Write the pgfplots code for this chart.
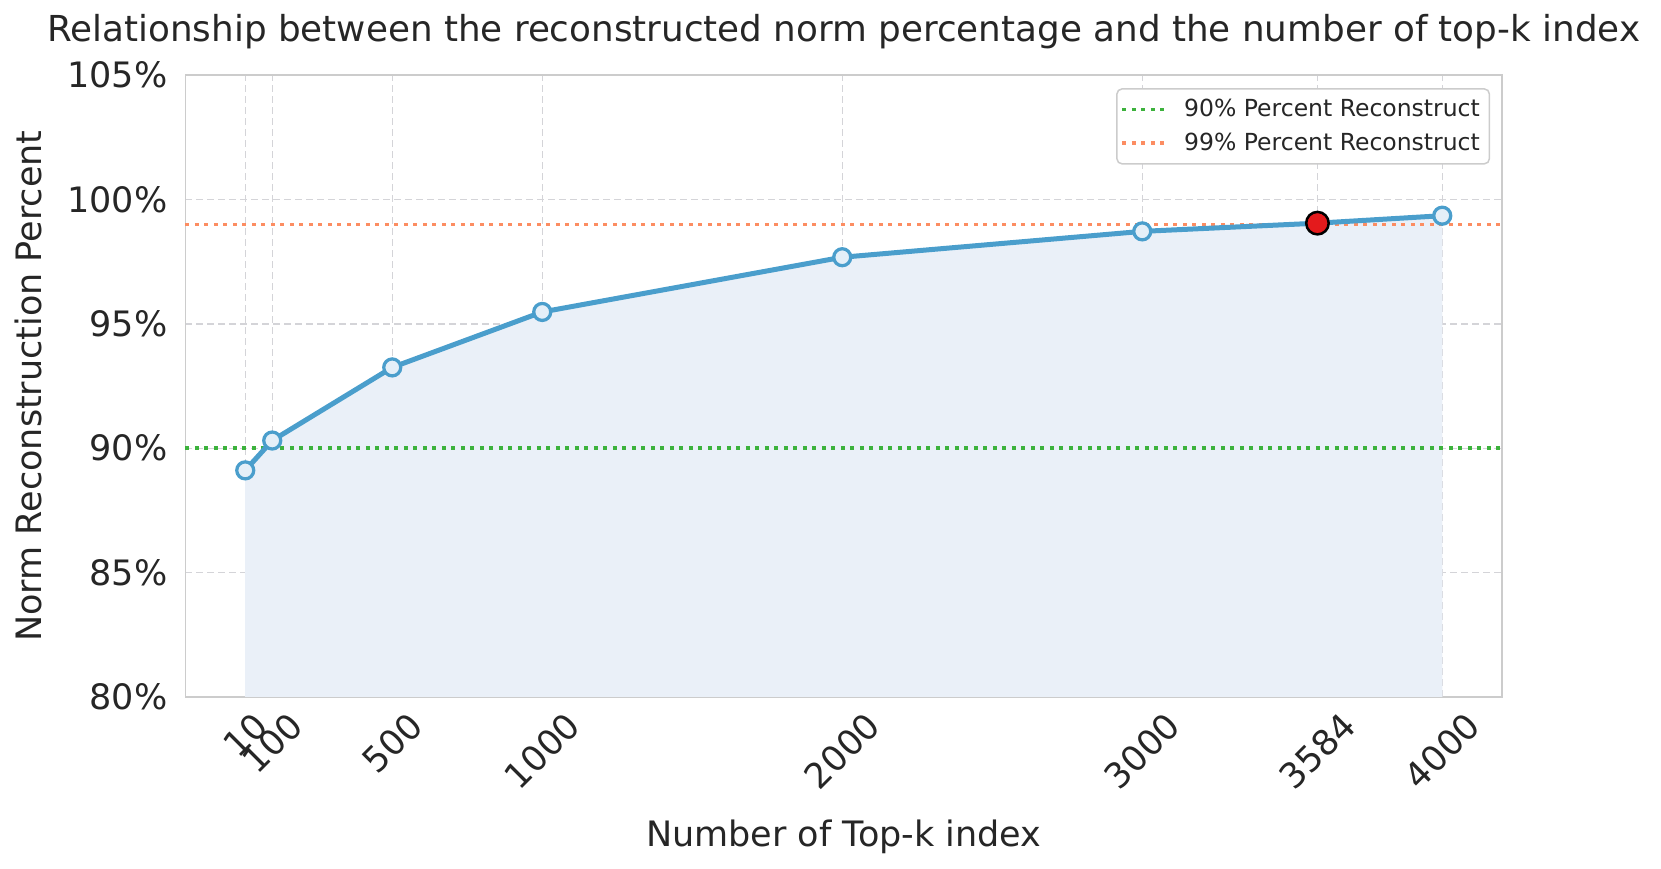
\documentclass[border=0pt]{standalone}
\usepackage{pgfplots}
\pgfplotsset{compat=1.18}
\usepackage{graphicx}
\usepackage{fontspec}
\setmainfont{DejaVu Sans}
\definecolor{lineblue}{RGB}{74,158,204}
\definecolor{markfill}{RGB}{228,239,248}
\definecolor{areafill}{RGB}{234,240,248}
\definecolor{gridgray}{RGB}{212,212,216}
\definecolor{framegray}{RGB}{204,204,204}
\definecolor{textdark}{RGB}{38,38,38}
\definecolor{greenl}{RGB}{60,178,60}
\definecolor{orangel}{RGB}{252,141,98}
\definecolor{redm}{RGB}{228,26,28}
\begin{document}
\begin{tikzpicture}
\useasboundingbox (-74.16pt,-68.8pt) rectangle (590.26pt,278.78pt);
\begin{axis}[
  at={(0,0)}, anchor=south west,
  scale only axis, width=526.7pt, height=248.7pt,
  xmin=-189.5, xmax=4199.5, ymin=80, ymax=105,
  xtick={10,100,500,1000,2000,3000,3584,4000},
  xticklabels={\rotatebox{45}{10},\rotatebox{45}{100},\rotatebox{45}{500},\rotatebox{45}{1000},\rotatebox{45}{2000},\rotatebox{45}{3000},\rotatebox{45}{3584},\rotatebox{45}{4000}},
  ytick={80,85,90,95,100,105},
  yticklabels={80\%,85\%,90\%,95\%,100\%,105\%},
  /pgf/number format/assume math mode=true,
  major tick length=0pt,
  grid=major,
  major grid style={dash pattern=on 2.8pt off 1.6pt, line width=0.5pt, gridgray},
  axis line style={framegray, line width=0.7pt},
  tick label style={font=\fontsize{14}{16}\selectfont, text=textdark},
  xticklabel style={anchor=north, inner sep=0pt, yshift=-5pt},
  yticklabel style={anchor=east, inner sep=0pt, xshift=-7pt},
  title={Relationship between the reconstructed norm percentage and the number of top-k index},
  title style={at={(axis description cs:0.5,1.0458)}, anchor=center, yshift=0pt, font=\fontsize{14.3}{16}\selectfont, text=textdark},
  xlabel={Number of Top-k index},
  xlabel style={at={(axis description cs:0.5,-0.2252)}, anchor=center, font=\fontsize{14}{16}\selectfont, text=textdark},
  ylabel={Norm Reconstruction Percent},
  ylabel style={at={(axis description cs:-0.119,0.5)}, anchor=center, font=\fontsize{14}{16}\selectfont, text=textdark},
  legend style={at={(1,1)}, anchor=north east, xshift=-4.8pt, yshift=-5.2pt,
    draw=framegray, rounded corners=2pt, fill=white, line width=0.6pt,
    font=\fontsize{9.4}{11}\selectfont, text=textdark,
    inner xsep=1.5pt, inner ysep=2pt, row sep=1pt,
    nodes={inner xsep=2.3pt}},
  legend cell align=left,
  legend image code/.code={\draw[#1] (0pt,0pt) -- (17pt,0pt); \path (21.7pt,0pt);},
  clip=false,
]
\addplot[fill=areafill, draw=none, forget plot] coordinates {
  (10,80) (10,89.11) (100,90.31) (500,93.25) (1000,95.48) (2000,97.68) (3000,98.72) (3584,99.05) (4000,99.35) (4000,80)
};
\addplot[greenl, line width=1.4pt, dash pattern=on 1.5pt off 2.3pt] coordinates {(-189.5,90) (4199.5,90)};
\addlegendentry{90\% Percent Reconstruct}
\addplot[orangel, line width=1.4pt, dash pattern=on 1.5pt off 2.3pt] coordinates {(-189.5,99) (4199.5,99)};
\addlegendentry{99\% Percent Reconstruct}
\addplot[lineblue, line width=2pt, mark=*, mark size=3.4pt,
  mark options={fill=markfill, draw=lineblue, line width=1.3pt}, forget plot] coordinates {
  (10,89.11) (100,90.31) (500,93.25) (1000,95.48) (2000,97.68) (3000,98.72) (3584,99.05) (4000,99.35)
};
\addplot[only marks, mark=*, mark size=4.5pt, mark options={fill=redm, draw=black, line width=1pt}, forget plot]
  coordinates {(3584,99.05)};
\end{axis}
\end{tikzpicture}
\end{document}
